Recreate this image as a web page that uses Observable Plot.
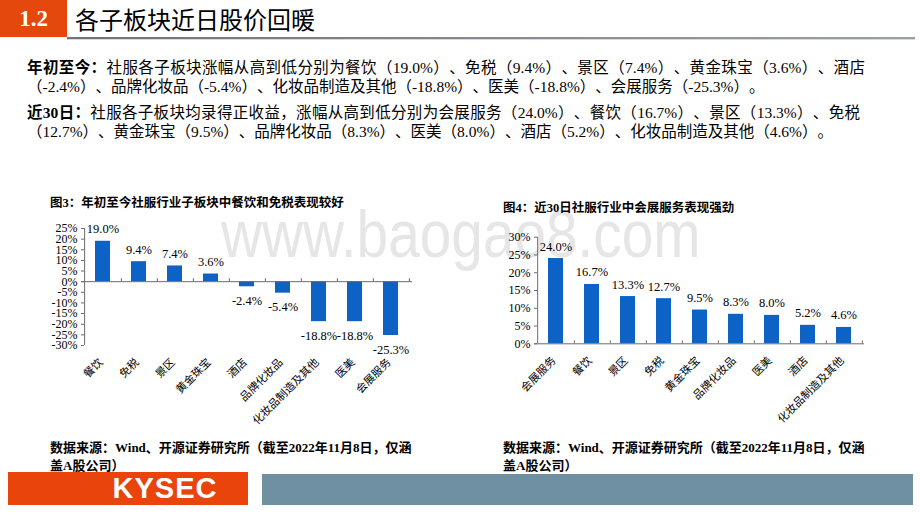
<!DOCTYPE html>
<html><head><meta charset="utf-8">
<script src="https://cdn.jsdelivr.net/npm/d3@7"></script>
<script src="https://cdn.jsdelivr.net/npm/@observablehq/plot@0.6"></script>
<style>
body{margin:0;background:#fff;}
#page{position:relative;width:920px;height:518px;overflow:hidden;font-family:"Liberation Serif","Noto Sans CJK SC",serif;color:#000;text-spacing-trim:space-all;}
.abs{position:absolute;white-space:nowrap;}
#wm{left:221px;top:194px;font-family:"Liberation Sans",sans-serif;font-size:66px;line-height:80px;color:#e6e6e6;transform:scaleX(0.86);transform-origin:left top;}
.para{font-size:15.5px;line-height:19px;}
.just{text-align:justify;text-align-last:justify;white-space:normal;}
.ctitle{font-size:12.5px;font-weight:bold;line-height:16px;}
.src{font-size:13px;font-weight:bold;line-height:18px;}
</style></head><body>
<div id="page">
  <div class="abs" id="wm">www.baogao8.com</div>
  <div class="abs" style="left:0;top:0;width:67px;height:37px;background:#e5480c;"></div>
  <div class="abs" style="left:0;top:0;width:67px;height:37px;line-height:37px;text-align:center;color:#fff;font-weight:bold;font-size:23px;font-family:'Liberation Serif',serif;">1.2</div>
  <div class="abs" style="left:75px;top:3px;font-size:24px;line-height:32px;font-family:'Noto Sans CJK SC',sans-serif;">各子板块近日股价回暖</div>
  <div class="abs" style="left:67px;top:37px;width:848px;height:2px;background:linear-gradient(to right,#6f747b,#9aa0a7);"></div>
  <div class="abs" style="left:67px;top:39px;width:848px;height:1px;background:#d8dadd;"></div>

  <div class="abs para just" style="left:27px;top:58px;width:838px;"><b>年初至今：</b>社服各子板块涨幅从高到低分别为餐饮（19.0%）、免税（9.4%）、景区（7.4%）、黄金珠宝（3.6%）、酒店</div>
  <div class="abs para" style="left:27px;top:77px;">（-2.4%）、品牌化妆品（-5.4%）、化妆品制造及其他（-18.8%）、医美（-18.8%）、会展服务（-25.3%）。</div>
  <div class="abs para just" style="left:27px;top:103px;width:833px;"><b>近30日：</b>社服各子板块均录得正收益，涨幅从高到低分别为会展服务（24.0%）、餐饮（16.7%）、景区（13.3%）、免税</div>
  <div class="abs para" style="left:27px;top:122px;">（12.7%）、黄金珠宝（9.5%）、品牌化妆品（8.3%）、医美（8.0%）、酒店（5.2%）、化妆品制造及其他（4.6%）。</div>

  <div class="abs ctitle" style="left:50px;top:195px;">图3：年初至今社服行业子板块中餐饮和免税表现较好</div>
  <div class="abs ctitle" style="left:503px;top:200px;">图4：近30日社服行业中会展服务表现强劲</div>

  <div class="abs" id="c1" style="left:30px;top:220px;"></div>
  <div class="abs" id="c2" style="left:480px;top:225px;"></div>

  <div class="abs src" style="left:50px;top:439px;">数据来源：Wind、开源证券研究所（截至2022年11月8日，仅涵<br>盖A股公司）</div>
  <div class="abs src" style="left:503px;top:439px;">数据来源：Wind、开源证券研究所（截至2022年11月8日，仅涵<br>盖A股公司）</div>

  <div class="abs" style="left:8px;top:472px;width:240px;height:33px;background:#e8440c;"></div>
  <div class="abs" style="left:95px;top:472px;width:140px;height:33px;line-height:33px;text-align:center;color:#fff;font-weight:bold;font-size:29px;font-family:'Liberation Sans',sans-serif;letter-spacing:1px;">KYSEC</div>
  <div class="abs" style="left:262px;top:474px;width:651px;height:31px;background:#6f8fa2;"></div>
</div>
<script>
// Figure 3: year-to-date change by sub-sector (%)
const cats1 = ["餐饮","免税","景区","黄金珠宝","酒店","品牌化妆品","化妆品制造及其他","医美","会展服务"];
const vals1 = [19.0, 9.4, 7.4, 3.6, -2.4, -5.4, -18.8, -18.8, -25.3];
const yTicks1 = [25, 20, 15, 10, 5, 0, -5, -10, -15, -20, -25, -30];
// Figure 4: last 30 days change by sub-sector (%)
const cats2 = ["会展服务","餐饮","景区","免税","黄金珠宝","品牌化妆品","医美","酒店","化妆品制造及其他"];
const vals2 = [24.0, 16.7, 13.3, 12.7, 9.5, 8.3, 8.0, 5.2, 4.6];
const yTicks2 = [30, 25, 20, 15, 10, 5, 0];

const BLUE = "#0d63c5";
const AXIS = "#6b6b6b";
const SERIF = "'Liberation Serif','Noto Sans CJK SC',serif";
const CJK = "'Noto Sans CJK SC',sans-serif";

function chart(o) {
  const data = o.cats.map((c, i) => ({cat: c, val: o.vals[i]}));
  const plotW = o.width - o.ml - o.mr;
  const plotH = o.height - o.mt - o.mb;
  const step = plotW / o.cats.length;
  const tickLen = 3 * (o.yDomain[1] - o.yDomain[0]) / plotH;
  const fmt = d => d.val.toFixed(1) + "%";
  return Plot.plot({
    width: o.width, height: o.height,
    marginLeft: o.ml, marginRight: o.mr, marginTop: o.mt, marginBottom: o.mb,
    style: {background: "transparent", fontFamily: SERIF, fontSize: "12px", color: "#000", overflow: "visible"},
    x: {domain: o.cats, paddingInner: 0.59, paddingOuter: 0.295, axis: null, label: null},
    y: {domain: o.yDomain, axis: null, label: null},
    marks: [
      Plot.barY(data, {x: "cat", y: "val", fill: BLUE}),
      Plot.ruleY([0], {stroke: AXIS}),
      Plot.ruleX([o.cats[0]], {y1: o.yDomain[0], y2: o.yDomain[1], dx: -step / 2, stroke: AXIS}),
      Plot.ruleY(o.ticks, {insetRight: plotW - 3, stroke: AXIS}),
      Plot.ruleX(o.cats, {y1: 0, y2: tickLen, dx: step / 2, stroke: AXIS}),
      Plot.axisY(o.ticks, {label: null, tickSize: 0, tickPadding: 4, tickFormat: d => `${d}%`, fontSize: 12, fontFamily: SERIF}),
      Plot.axisX({label: null, tickRotate: -45, tickSize: 0, tickPadding: 15, dx: -2, fontSize: 11, fontFamily: CJK}),
      Plot.text(data.filter(d => d.val >= 0), {x: "cat", y: "val", text: fmt, dy: -12, fontSize: 12.5, fontFamily: SERIF}),
      Plot.text(data.filter(d => d.val < 0), {x: "cat", y: "val", text: fmt, dy: 14, fontSize: 12.5, fontFamily: SERIF})
    ]
  });
}

document.getElementById("c1").append(chart({
  cats: cats1, vals: vals1, ticks: yTicks1, yDomain: [-30, 25],
  width: 400, height: 210, ml: 51, mr: 18, mt: 8, mb: 85
}));
document.getElementById("c2").append(chart({
  cats: cats2, vals: vals2, ticks: yTicks2, yDomain: [0, 30],
  width: 400, height: 205, ml: 54, mr: 16, mt: 11.7, mb: 86.7
}));
</script>
</body></html>
